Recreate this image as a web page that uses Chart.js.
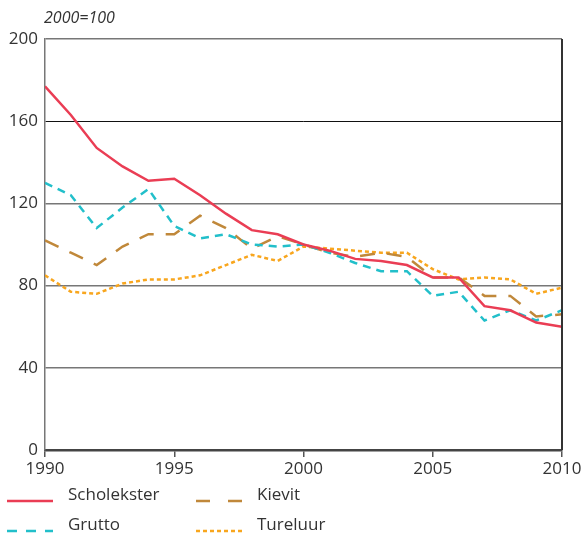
<!DOCTYPE html>
<html>
<head>
<meta charset="utf-8">
<script src="https://cdn.jsdelivr.net/npm/chart.js@4"></script>
<style>
  body { margin: 0; background: #fff; }
  #wrap { width: 581px; height: 533px; }
</style>
</head>
<body>
<div id="wrap"><canvas id="birdChart" width="581" height="533"></canvas></div>
<script>
const years = [1990, 1991, 1992, 1993, 1994, 1995, 1996, 1997, 1998, 1999, 2000,
  2001, 2002, 2003, 2004, 2005, 2006, 2007, 2008, 2009, 2010];

const scholekster = [177, 163, 147, 138, 131, 132, 124, 115, 107, 105, 100,
  97, 93, 92, 90, 84, 84, 70, 68, 62, 60];
const grutto = [130, 124, 108, 118, 127, 109, 103, 105, 100, 99, 100,
  96, 91, 87, 87, 75, 77, 63, 68, 63, 68];
const kievit = [102, 96, 90, 99, 105, 105, 114, 108, 98, 104, 100,
  96, 94, 96, 94, 84, 84, 75, 75, 65, 66];
const tureluur = [85, 77, 76, 81, 83, 83, 85, 90, 95, 92, 99,
  98, 97, 96, 96, 88, 83, 84, 83, 76, 79];

const yTicks = [0, 40, 80, 120, 160, 200];
const xTicks = [1990, 1995, 2000, 2005, 2010];
const unitLabel = "2000=100";

const FONT = "'Open Sans', sans-serif";
const TEXT = "#333333";

function pts(vals) {
  return years.map((y, i) => ({ x: y, y: vals[i] }));
}

// legend dash patterns differ a bit from the chart lines
const series = [
  { label: "Scholekster", data: pts(scholekster), borderColor: "#ea3d54", borderDash: [], legendDash: [] },
  { label: "Grutto", data: pts(grutto), borderColor: "#22bfca", borderDash: [8, 6], legendDash: [10, 9] },
  { label: "Kievit", data: pts(kievit), borderColor: "#c0883a", borderDash: [15, 12], legendDash: [14, 18] },
  { label: "Tureluur", data: pts(tureluur), borderColor: "#f8a61e", borderDash: [4, 3], legendDash: [4, 3] }
];

const decor = {
  id: "decor",
  afterDraw(chart) {
    const ctx = chart.ctx;
    const a = chart.chartArea;
    ctx.save();
    // right frame line
    ctx.strokeStyle = "#333";
    ctx.lineWidth = 2;
    ctx.beginPath();
    ctx.moveTo(a.right, a.top);
    ctx.lineTo(a.right, a.bottom);
    ctx.stroke();

    // unit label
    ctx.fillStyle = TEXT;
    ctx.font = "italic 16px " + FONT;
    ctx.textBaseline = "middle";
    ctx.textAlign = "left";
    ctx.fillText(unitLabel, 44, 18);

    // legend, two columns
    const place = {
      Scholekster: { x: 7, y: 501 }, Grutto: { x: 7, y: 531 },
      Kievit: { x: 196, y: 501 }, Tureluur: { x: 196, y: 531 }
    };
    series.forEach(s => {
      const p = place[s.label];
      ctx.strokeStyle = s.borderColor;
      ctx.lineWidth = 2.5;
      ctx.setLineDash(s.legendDash);
      ctx.beginPath();
      ctx.moveTo(p.x, p.y);
      ctx.lineTo(p.x + 46, p.y);
      ctx.stroke();
      ctx.setLineDash([]);
      ctx.fillStyle = TEXT;
      ctx.font = "17px " + FONT;
      ctx.fillText(s.label, p.x + 61, p.y - 6);
    });
    ctx.restore();
  }
};

new Chart(document.getElementById("birdChart"), {
  type: "line",
  data: {
    datasets: series.map(s => ({
      label: s.label,
      data: s.data,
      borderColor: s.borderColor,
      borderDash: s.borderDash,
      borderWidth: 2.5,
      pointRadius: 0,
      tension: 0,
      fill: false
    }))
  },
  options: {
    responsive: false,
    animation: false,
    layout: { padding: { top: 39, right: 19, left: 0, bottom: 0 } },
    plugins: { legend: { display: false }, tooltip: { enabled: false } },
    scales: {
      x: {
        type: "linear",
        min: 1990,
        max: 2010,
        afterBuildTicks: s => { s.ticks = xTicks.map(v => ({ value: v })); },
        afterFit: s => { s.height = 83; s.paddingRight = 0; s.paddingLeft = 0; },
        ticks: {
          color: TEXT,
          font: { family: FONT, size: 17 },
          padding: 2,
          maxRotation: 0,
          callback: v => String(v)
        },
        grid: { drawOnChartArea: false, color: "#555", tickLength: 7, lineWidth: 1.5 },
        border: { color: "#444", width: 2.5 }
      },
      y: {
        min: 0,
        max: 200,
        afterBuildTicks: s => { s.ticks = yTicks.map(v => ({ value: v })); },
        afterFit: s => { s.width = 45; },
        ticks: {
          color: TEXT,
          font: { family: FONT, size: 17 },
          padding: 7
        },
        grid: {
          color: c => (c.tick && c.tick.value === 160 ? "#111" : "#777"),
          lineWidth: c => (c.tick && c.tick.value === 160 ? 1 : 1.5),
          drawTicks: false
        },
        border: { color: "#777", width: 1.5 }
      }
    }
  },
  plugins: [decor]
});
</script>
</body>
</html>
